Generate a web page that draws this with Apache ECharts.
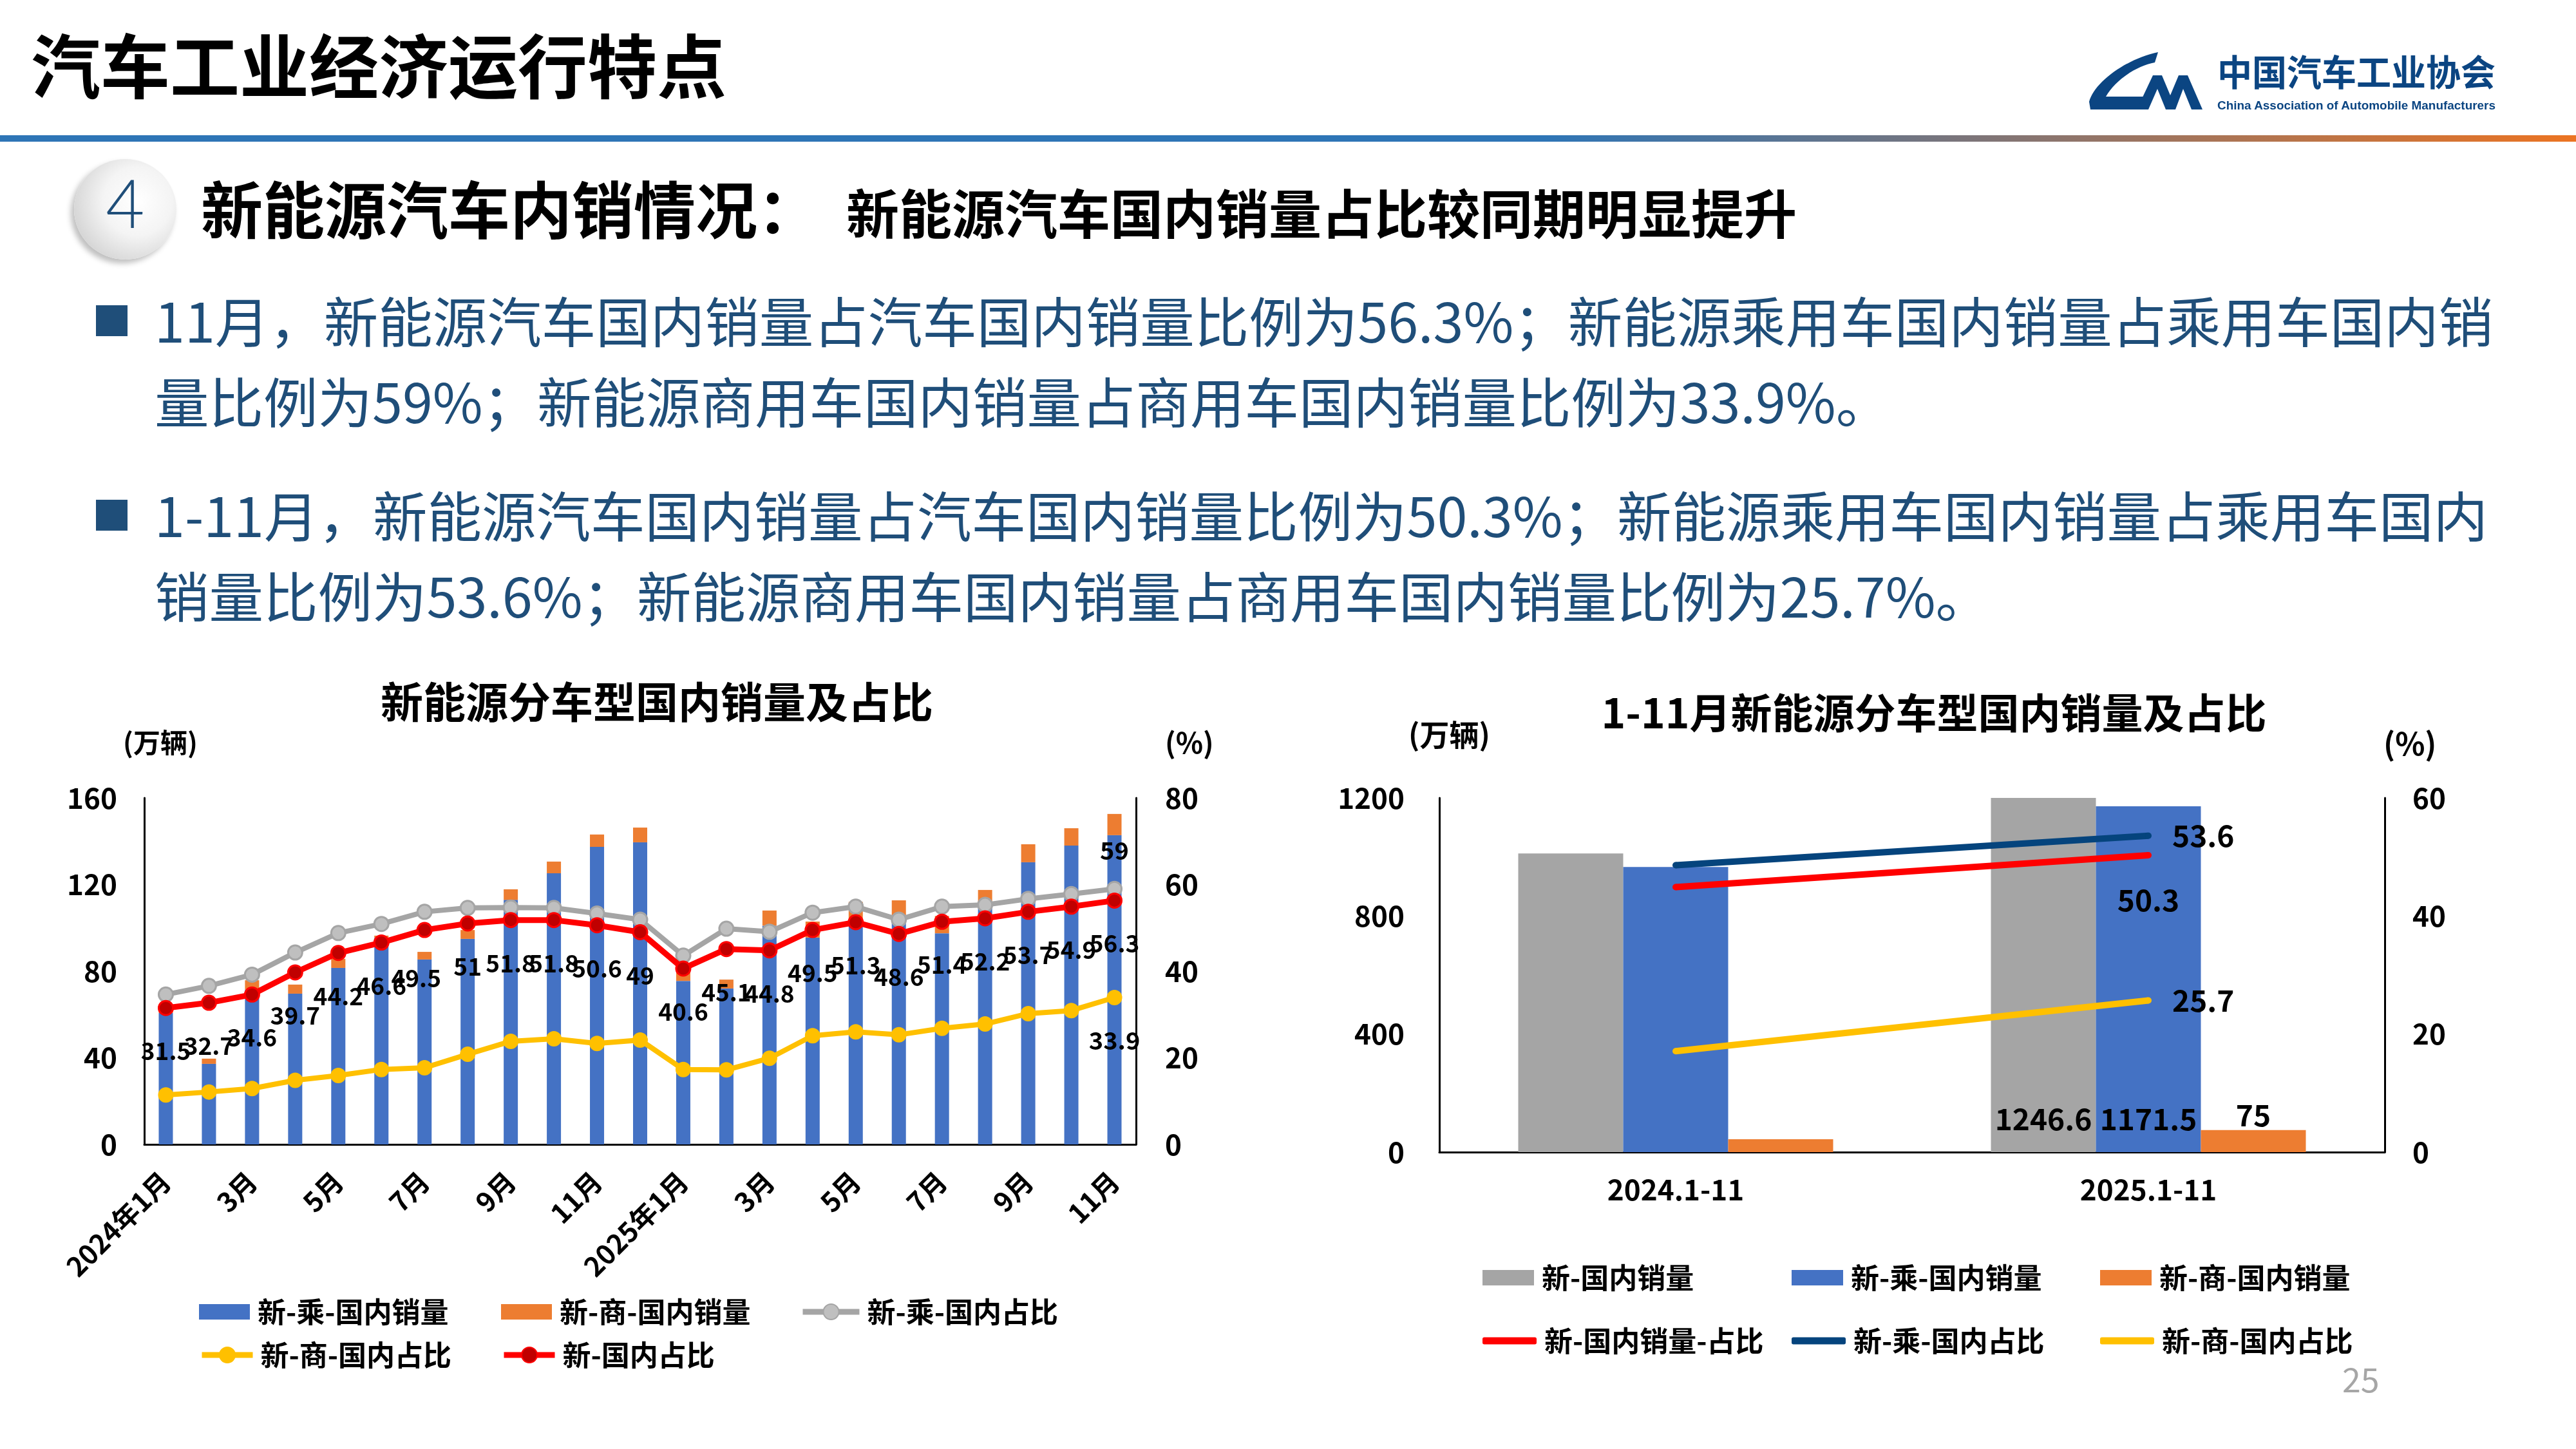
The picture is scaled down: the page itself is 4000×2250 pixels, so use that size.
<!DOCTYPE html>
<html><head><meta charset="utf-8">
<script src="https://cdn.jsdelivr.net/npm/echarts@6/dist/echarts.min.js"></script>
<style>
html,body{margin:0;padding:0;width:4000px;height:2250px;background:#fff;overflow:hidden;font-family:"Noto Sans CJK SC","Noto Sans",sans-serif;}
.layer{position:absolute;left:0;top:0;width:4000px;height:2250px;}
.t{position:absolute;white-space:nowrap;line-height:1;}
.blue{color:#1F4E79;}
.sq{position:absolute;width:49px;height:48px;background:#1F4E79;}
</style></head><body>
<div id="c1" class="layer"></div>
<div id="c2" class="layer"></div>
<div class="layer" style="pointer-events:none">
  <div class="t" style="left:48px;top:43px;font-size:108px;font-weight:bold;color:#000">汽车工业经济运行特点</div>
  <svg style="position:absolute;left:0;top:0" width="4000" height="230">
    <path d="M3351,81 C3300,92 3252,128 3244,158 L3246,170 L3322,170 L3330,150 L3270,150 C3285,124 3318,102 3346,97 Z" fill="#0B4582"/>
    <polygon points="3318,170 3343,117 3357,117 3370,148 3383,117 3397,117 3420,170 3403,170 3390,138 3378,170 3363,170 3350,138 3336,170" fill="#0B4582"/>
    <text x="3443" y="133" font-size="56" font-weight="bold" fill="#0B4582" textLength="432" lengthAdjust="spacingAndGlyphs" font-family="Noto Sans CJK SC">中国汽车工业协会</text>
    <text x="3443" y="170" font-size="19" font-weight="bold" fill="#0B4582" textLength="432" lengthAdjust="spacingAndGlyphs" font-family="Liberation Sans">China Association of Automobile Manufacturers</text>
  </svg>
  <div style="position:absolute;left:0;top:210px;width:4000px;height:10px;background:linear-gradient(to right,#2E75B6 0%,#2E75B6 60%,#EC7422 100%)"></div>
  <div style="position:absolute;left:115px;top:247px;width:159px;height:156px;border-radius:50%;background:radial-gradient(circle at 62% 42%,#ffffff 0%,#f4f4f4 40%,#d2d2d2 80%,#bdbdbd 100%);box-shadow:-5px 6px 8px rgba(0,0,0,0.25);"></div>
  <div class="t" style="left:115px;top:262px;width:159px;text-align:center;font-size:104px;font-family:Lato,'Liberation Sans',sans-serif;font-weight:300;color:#1F4E79">4</div>
  <div class="t" style="left:312px;top:273px;font-size:96px;font-weight:bold;color:#000">新能源汽车内销情况：</div>
  <div class="t" style="left:1314px;top:287px;font-size:82px;font-weight:bold;color:#000">新能源汽车国内销量占比较同期明显提升</div>
  <div class="sq" style="left:149px;top:474px"></div>
  <div class="sq" style="left:149px;top:776px"></div>
  <div class="t blue" style="left:240px;top:453px;font-size:84.5px">11月，新能源汽车国内销量占汽车国内销量比例为56.3%；新能源乘用车国内销量占乘用车国内销</div>
  <div class="t blue" style="left:240px;top:578px;font-size:84.5px">量比例为59%；新能源商用车国内销量占商用车国内销量比例为33.9%。</div>
  <div class="t blue" style="left:240px;top:755px;font-size:84.5px">1-11月，新能源汽车国内销量占汽车国内销量比例为50.3%；新能源乘用车国内销量占乘用车国内</div>
  <div class="t blue" style="left:240px;top:880px;font-size:84.5px">销量比例为53.6%；新能源商用车国内销量占商用车国内销量比例为25.7%。</div>
  <div class="t" style="left:3637px;top:2114px;font-size:52px;color:#A6A6A6">25</div>
</div>
<script>
// ---- Left chart data (monthly) ----
const months = ['2024年1月','2月','3月','4月','5月','6月','7月','8月','9月','10月','11月','12月','2025年1月','2月','3月','4月','5月','6月','7月','8月','9月','10月','11月'];
const pvSales = [60.7,37.2,71.5,69.6,81.5,95.5,85.4,94.9,112.9,125.2,137.4,139.5,75.5,72.0,101.0,95.5,104.0,104.5,97.5,111.5,130.3,138.0,142.8];
const cvSales = [1.2,2.4,4.3,4.2,4.2,0.9,3.5,4.1,4.9,5.4,5.7,6.8,6.5,4.1,7.0,7.4,8.0,8.2,8.0,6.0,8.3,8.0,9.8];
const pvShare = [34.6,36.6,39.2,44.3,48.8,50.9,53.7,54.6,54.7,54.6,53.3,51.9,43.6,49.8,49.1,53.5,54.9,51.9,54.9,55.3,56.7,57.8,59];
const cvShare = [11.4,12.1,12.9,14.8,15.9,17.3,17.7,20.8,23.8,24.4,23.3,24.1,17.3,17.2,19.9,25.1,26.0,25.3,26.8,27.8,30.2,30.9,33.9];
const nevShare = [31.5,32.7,34.6,39.7,44.2,46.6,49.5,51,51.8,51.8,50.6,49,40.6,45.1,44.8,49.5,51.3,48.6,51.4,52.2,53.7,54.9,56.3];
const leftTicksL = [0,40,80,120,160];
const leftTicksR = [0,20,40,60,80];
// ---- Right chart data (Jan-Nov cumulative) ----
const periods = ['2024.1-11','2025.1-11'];
const nevSalesYtd = [1012,1246.6];
const pvSalesYtd = [966,1171.5];
const cvSalesYtd = [43.7,75];
const nevShareYtd = [44.9,50.3];
const pvShareYtd = [48.6,53.6];
const cvShareYtd = [17.1,25.7];
const rightTicksL = [0,400,800,1200];
const rightTicksR = [0,20,40,60];

const FONT = '"Noto Sans CJK SC","Noto Sans",sans-serif';
const AX = {lineStyle:{color:'#000',width:3}};
function lbl(size, extra){return Object.assign({fontFamily:FONT,fontSize:size,fontWeight:'bold',color:'#000'},extra||{});}
function txt(x,y,text,size,align){
  return {type:'text',x:x,y:y,silent:true,style:{text:text,font:'bold '+size+'px '+FONT,fill:'#000',align:align||'left',verticalAlign:'middle'}};
}
function leg(name,left,top,w,h,icon,lw){
  const o = {data:[name],left:left,top:top,padding:0,itemWidth:w,itemHeight:h,selectedMode:false,
    textStyle:{fontFamily:FONT,fontSize:44,fontWeight:'bold',color:'#000',lineHeight:50,padding:[0,0,0,7]}};
  if(icon) o.icon = icon;
  if(lw) o.lineStyle = {width:lw};
  return o;
}
function yAx(grid,pos,max,interval,margin){
  return {type:'value',gridIndex:grid,position:pos,min:0,max:max,interval:interval,
    axisLine:Object.assign({show:true},AX),axisTick:{show:false},splitLine:{show:false},
    axisLabel:lbl(44,{margin:margin,formatter:function(v){return String(v);}})};
}

// ===== Left chart =====
const c1 = echarts.init(document.getElementById('c1'),null,{width:4000,height:2250});
c1.setOption({
  animation:false,
  textStyle:{fontFamily:FONT},
  grid:{left:224,right:2236,top:1239,bottom:473},
  xAxis:{type:'category',data:months,axisLine:AX,axisTick:{show:false},
    axisLabel:lbl(42,{interval:1,rotate:45,margin:50})},
  yAxis:[yAx(0,'left',leftTicksL[leftTicksL.length-1],leftTicksL[1],42), yAx(0,'right',leftTicksR[leftTicksR.length-1],leftTicksR[1],45)],
  legend:[
    leg('新-乘-国内销量',309,2012,79,24,'rect'),
    leg('新-商-国内销量',778,2012,79,24,'rect'),
    leg('新-乘-国内占比',1242,2012,88,30,null,9),
    leg('新-商-国内占比',309,2079,79,30,null,9),
    leg('新-国内占比',778,2079,79,30,null,9)
  ],
  graphic:[
    txt(1020,1090,'新能源分车型国内销量及占比',66,'center'),
    txt(191,1153,'(万辆)',42),
    txt(1809,1153,'(%)',44)
  ],
  series:[
    {name:'新-乘-国内销量',type:'bar',stack:'s',barWidth:22,data:pvSales,itemStyle:{color:'#4472C4'}},
    {name:'新-商-国内销量',type:'bar',stack:'s',barWidth:22,data:cvSales,itemStyle:{color:'#ED7D31'}},
    {name:'新-乘-国内占比',type:'line',yAxisIndex:1,z:3,symbol:'circle',symbolSize:22,
      lineStyle:{color:'#A5A5A5',width:8},itemStyle:{color:'#BFBFBF',borderColor:'#A5A5A5',borderWidth:3},
      data:pvShare.map((v,i)=>({value:v,label:{show:i===pvShare.length-1}})),
      label:lbl(38,{position:'top',distance:28})},
    {name:'新-商-国内占比',type:'line',yAxisIndex:1,z:3,symbol:'circle',symbolSize:22,
      lineStyle:{color:'#FFC000',width:8},itemStyle:{color:'#FFC000',borderColor:'#FFC000',borderWidth:2},
      data:cvShare.map((v,i)=>({value:v,label:{show:i===cvShare.length-1}})),
      label:lbl(38,{position:'bottom',distance:36})},
    {name:'新-国内占比',type:'line',yAxisIndex:1,z:4,symbol:'circle',symbolSize:22,
      lineStyle:{color:'#FF0000',width:9},itemStyle:{color:'#C00000',borderColor:'#FF0000',borderWidth:3},
      data:nevShare.map((v,i)=>(i===6?{value:v,label:{offset:[-13,8]}}:v)),
      label:lbl(37,{show:true,position:'bottom',distance:36})}
  ]
});

// ===== Right chart =====
const c2 = echarts.init(document.getElementById('c2'),null,{width:4000,height:2250});
const lastOnly = (arr)=>arr.map((v,i)=>({value:v,label:{show:i===arr.length-1}}));
c2.setOption({
  animation:false,
  textStyle:{fontFamily:FONT},
  grid:{left:2235,right:297,top:1239,bottom:461},
  xAxis:{type:'category',data:periods,axisLine:AX,axisTick:{show:false},axisLabel:lbl(44,{margin:36})},
  yAxis:[yAx(0,'left',rightTicksL[rightTicksL.length-1],rightTicksL[1],54), yAx(0,'right',rightTicksR[rightTicksR.length-1],rightTicksR[1],43)],
  legend:[
    leg('新-国内销量',2302,1959,80,24,'rect'),
    leg('新-乘-国内销量',2782,1959,80,24,'rect'),
    leg('新-商-国内销量',3261,1959,80,24,'rect'),
    leg('新-国内销量-占比',2302,2057,84,11,'roundRect'),
    leg('新-乘-国内占比',2782,2057,84,11,'roundRect'),
    leg('新-商-国内占比',3261,2057,84,11,'roundRect')
  ],
  graphic:[
    txt(3003,1107,'1-11月新能源分车型国内销量及占比',64,'center'),
    txt(2187,1141,'(万辆)',46),
    txt(3701,1155,'(%)',48)
  ],
  series:[
    {name:'新-国内销量',type:'bar',barWidth:163,barGap:'0%',clip:true,data:lastOnly(nevSalesYtd),
      itemStyle:{color:'#A5A5A5'},label:lbl(46,{position:'insideBottom',distance:28})},
    {name:'新-乘-国内销量',type:'bar',barWidth:163,barGap:'0%',clip:true,data:lastOnly(pvSalesYtd),
      itemStyle:{color:'#4472C4'},label:lbl(46,{position:'insideBottom',distance:28})},
    {name:'新-商-国内销量',type:'bar',barWidth:163,barGap:'0%',clip:true,data:lastOnly(cvSalesYtd),
      itemStyle:{color:'#ED7D31'},label:lbl(46,{position:'top',distance:0})},
    {name:'新-国内销量-占比',type:'line',yAxisIndex:1,z:4,symbol:'circle',symbolSize:10,
      lineStyle:{color:'#FF0000',width:10},itemStyle:{color:'#FF0000'},
      data:lastOnly(nevShareYtd),label:lbl(46,{position:'bottom',distance:42})},
    {name:'新-乘-国内占比',type:'line',yAxisIndex:1,z:4,symbol:'circle',symbolSize:10,
      lineStyle:{color:'#05447D',width:10},itemStyle:{color:'#05447D'},
      data:lastOnly(pvShareYtd),label:lbl(46,{position:'right',distance:32})},
    {name:'新-商-国内占比',type:'line',yAxisIndex:1,z:4,symbol:'circle',symbolSize:10,
      lineStyle:{color:'#FFC000',width:10},itemStyle:{color:'#FFC000'},
      data:lastOnly(cvShareYtd),label:lbl(46,{position:'right',distance:32})}
  ]
});
</script>
</body></html>
